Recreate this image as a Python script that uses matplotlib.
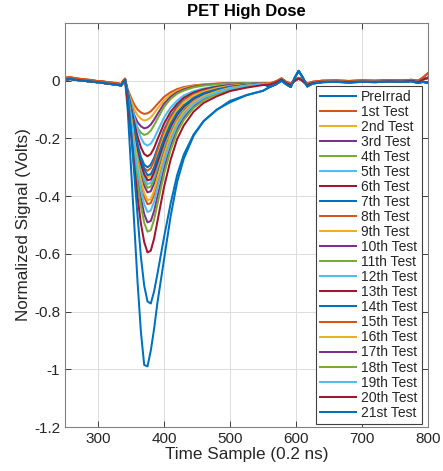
import matplotlib
matplotlib.use("Agg")
import matplotlib.pyplot as plt

# ---------------- data ----------------
labels = ["PreIrrad", "1st Test", "2nd Test", "3rd Test", "4th Test", "5th Test",
          "6th Test", "7th Test", "8th Test", "9th Test", "10th Test", "11th Test",
          "12th Test", "13th Test", "14th Test", "15th Test", "16th Test",
          "17th Test", "18th Test", "19th Test", "20th Test", "21st Test"]

# pre-pulse baseline (shared by all curves)
pre_t = [250, 258, 266, 274, 282, 290, 298, 306, 314, 322, 330, 335, 338, 341]
pre_common = [0.004, 0.006, 0.003, 0.001, -0.001, -0.003, -0.005, -0.007, -0.010,
              -0.012, -0.014, -0.017, -0.006, 0.003]
pre_orange = [0.010, 0.012, 0.008, 0.006, 0.004, 0.002, -0.001, -0.002, -0.005,
              -0.007, -0.009, -0.012, -0.001, 0.007]

# pulse region samples
pulse_t = [345, 350, 355, 360, 365, 370, 375, 380, 385, 390, 400, 410, 420, 430,
           445, 460, 480, 500, 525, 550]

pulse_pre = [-0.100, -0.300, -0.500, -0.700, -0.870, -0.985, -0.990, -0.935, -0.860, -0.770,
             -0.620, -0.470, -0.350, -0.270, -0.190, -0.140, -0.100, -0.075, -0.050, -0.035]
pulse_01 = [-0.030, -0.058, -0.083, -0.100, -0.110, -0.115, -0.113, -0.106, -0.094, -0.081,
            -0.056, -0.040, -0.029, -0.022, -0.016, -0.013, -0.010, -0.008, -0.008, -0.008]
pulse_02 = [-0.035, -0.069, -0.099, -0.120, -0.132, -0.138, -0.135, -0.127, -0.113, -0.097,
            -0.068, -0.048, -0.035, -0.026, -0.018, -0.014, -0.011, -0.009, -0.009, -0.008]
pulse_03 = [-0.040, -0.083, -0.119, -0.144, -0.158, -0.165, -0.162, -0.152, -0.135, -0.116,
            -0.080, -0.056, -0.040, -0.030, -0.020, -0.015, -0.011, -0.009, -0.009, -0.008]
pulse_04 = [-0.045, -0.094, -0.135, -0.164, -0.180, -0.188, -0.184, -0.173, -0.154, -0.132,
            -0.091, -0.063, -0.045, -0.034, -0.023, -0.017, -0.012, -0.010, -0.009, -0.008]
pulse_05 = [-0.040, -0.079, -0.126, -0.167, -0.198, -0.218, -0.225, -0.218, -0.200, -0.176,
            -0.128, -0.093, -0.069, -0.051, -0.036, -0.027, -0.019, -0.014, -0.011, -0.009]
pulse_06 = [-0.042, -0.092, -0.147, -0.194, -0.231, -0.254, -0.262, -0.254, -0.233, -0.204,
            -0.149, -0.108, -0.080, -0.059, -0.041, -0.030, -0.021, -0.015, -0.012, -0.009]
pulse_07 = [-0.045, -0.105, -0.168, -0.222, -0.264, -0.291, -0.300, -0.291, -0.267, -0.234,
            -0.171, -0.123, -0.090, -0.067, -0.046, -0.034, -0.024, -0.017, -0.013, -0.010]
pulse_08 = [-0.047, -0.109, -0.175, -0.231, -0.275, -0.303, -0.312, -0.303, -0.278, -0.243,
            -0.178, -0.128, -0.094, -0.069, -0.048, -0.035, -0.025, -0.018, -0.013, -0.010]
pulse_09 = [-0.050, -0.118, -0.188, -0.249, -0.296, -0.326, -0.336, -0.326, -0.299, -0.262,
            -0.192, -0.138, -0.101, -0.074, -0.051, -0.038, -0.026, -0.018, -0.013, -0.010]
pulse_10 = [-0.046, -0.116, -0.194, -0.263, -0.321, -0.364, -0.387, -0.383, -0.356, -0.317,
            -0.240, -0.178, -0.132, -0.101, -0.070, -0.050, -0.035, -0.024, -0.017, -0.012]
pulse_11 = [-0.045, -0.111, -0.186, -0.252, -0.308, -0.349, -0.371, -0.367, -0.341, -0.304,
            -0.230, -0.171, -0.126, -0.096, -0.067, -0.048, -0.034, -0.023, -0.016, -0.011]
pulse_12 = [-0.043, -0.107, -0.179, -0.243, -0.297, -0.337, -0.358, -0.354, -0.329, -0.294,
            -0.222, -0.165, -0.122, -0.093, -0.065, -0.047, -0.033, -0.023, -0.016, -0.011]
pulse_13 = [-0.042, -0.104, -0.173, -0.235, -0.286, -0.324, -0.345, -0.342, -0.317, -0.283,
            -0.214, -0.159, -0.117, -0.090, -0.062, -0.045, -0.032, -0.022, -0.015, -0.011]
pulse_14 = [-0.040, -0.098, -0.164, -0.222, -0.271, -0.307, -0.327, -0.324, -0.301, -0.268,
            -0.203, -0.150, -0.111, -0.085, -0.059, -0.043, -0.030, -0.021, -0.015, -0.011]
pulse_15 = [-0.051, -0.128, -0.214, -0.291, -0.355, -0.402, -0.428, -0.424, -0.394, -0.351,
            -0.265, -0.197, -0.146, -0.111, -0.077, -0.056, -0.039, -0.026, -0.018, -0.012]
pulse_16 = [-0.050, -0.124, -0.207, -0.282, -0.344, -0.389, -0.414, -0.410, -0.381, -0.339,
            -0.257, -0.190, -0.141, -0.108, -0.075, -0.054, -0.037, -0.025, -0.017, -0.011]
pulse_17 = [-0.059, -0.147, -0.246, -0.334, -0.408, -0.462, -0.491, -0.486, -0.452, -0.403,
            -0.304, -0.226, -0.167, -0.128, -0.088, -0.064, -0.044, -0.029, -0.020, -0.013]
pulse_18 = [-0.063, -0.157, -0.262, -0.356, -0.434, -0.492, -0.523, -0.518, -0.481, -0.429,
            -0.324, -0.241, -0.178, -0.136, -0.094, -0.068, -0.047, -0.031, -0.021, -0.013]
pulse_19 = [-0.055, -0.137, -0.228, -0.309, -0.378, -0.428, -0.455, -0.450, -0.419, -0.373,
            -0.282, -0.209, -0.155, -0.118, -0.082, -0.059, -0.041, -0.027, -0.018, -0.012]
pulse_20 = [-0.071, -0.179, -0.298, -0.405, -0.494, -0.559, -0.595, -0.589, -0.547, -0.488,
            -0.369, -0.274, -0.202, -0.155, -0.107, -0.077, -0.054, -0.036, -0.024, -0.015]
pulse_21 = [-0.047, -0.171, -0.326, -0.470, -0.610, -0.710, -0.765, -0.772, -0.730, -0.670,
            -0.543, -0.426, -0.326, -0.256, -0.186, -0.140, -0.101, -0.070, -0.050, -0.035]

# tail region samples
tail_t = [560, 570, 578, 585, 592, 598, 604, 610, 617, 625, 640, 660, 680, 700, 720,
          740, 760, 775, 785, 792, 800]
tail_common = [-0.014, -0.006, 0.004, -0.008, -0.015, 0.000, 0.008, 0.000, -0.015, -0.008,
               -0.004, -0.003, -0.005, -0.003, -0.004, -0.002, -0.003, 0.000, -0.005, 0.004, 0.010]
tail_blue = [-0.022, -0.012, 0.000, -0.012, -0.022, 0.010, 0.034, 0.012, -0.020, -0.010,
             -0.005, -0.004, -0.006, -0.004, -0.005, -0.003, -0.004, -0.002, -0.008, -0.004, -0.008]
tail_orange = [-0.010, -0.002, 0.008, -0.004, -0.010, 0.004, 0.010, 0.004, -0.010, -0.004,
               0.000, 0.001, -0.001, 0.001, 0.000, 0.002, 0.001, 0.003, 0.000, 0.010, 0.026]

pulses = [pulse_pre, pulse_01, pulse_02, pulse_03, pulse_04, pulse_05, pulse_06,
          pulse_07, pulse_08, pulse_09, pulse_10, pulse_11, pulse_12, pulse_13,
          pulse_14, pulse_15, pulse_16, pulse_17, pulse_18, pulse_19, pulse_20, pulse_21]

matlab_colors = ["#0072BD", "#D95319", "#EDB120", "#7E2F8E", "#77AC30", "#4DBEEE", "#A2142F"]

# ---------------- figure ----------------
plt.rcParams['font.family'] = ['Liberation Sans', 'DejaVu Sans']
fig = plt.figure(figsize=(4.43, 4.71), dpi=100)
ax = fig.add_axes([0.1467, 0.0934, 0.8195, 0.8578])

dark = "#262626"
for i, (lab, pv) in enumerate(zip(labels, pulses)):
    col = matlab_colors[i % 7]
    if i % 7 == 0:
        pre, tail = pre_common, tail_blue
    elif i % 7 == 1:
        pre, tail = pre_orange, tail_orange
    else:
        pre, tail = pre_common, tail_common
    t = pre_t + pulse_t + tail_t
    v = pre + pv + tail
    ax.plot(t, v, color=col, lw=1.45, label=lab, solid_joinstyle='round')

ax.set_xlim(250, 800)
ax.set_ylim(-1.2, 0.2)
ax.set_xticks([300, 400, 500, 600, 700, 800])
ax.set_yticks([-1.2, -1.0, -0.8, -0.6, -0.4, -0.2, 0.0])
ax.set_yticklabels(["-1.2", "-1", "-0.8", "-0.6", "-0.4", "-0.2", "0"])
ax.grid(True, color="#dcdcdc", lw=0.7)
ax.set_axisbelow(True)
ax.tick_params(direction='in', length=4, width=0.6, colors=dark, labelsize=11,
               top=True, right=True, labelcolor=dark)
for s in ax.spines.values():
    s.set_color("#808080")
    s.set_linewidth(0.8)

ax.set_title("PET High Dose", fontsize=12, fontweight='bold', color='black', pad=5)
ax.set_xlabel("Time Sample (0.2 ns)", fontsize=12.3, color=dark, labelpad=1)
ax.set_ylabel("Normalized Signal (Volts)", fontsize=12.3, color=dark, labelpad=2)

leg = ax.legend(loc='upper right', bbox_to_anchor=(0.983, 0.845), borderaxespad=0,
                fontsize=10, labelspacing=0.075, handlelength=2.6, handletextpad=0.35,
                borderpad=0.3, fancybox=False, framealpha=1, edgecolor="#404040")
leg.get_frame().set_linewidth(0.8)
for txt in leg.get_texts():
    txt.set_color(dark)

fig.savefig("out.png", dpi=100)
